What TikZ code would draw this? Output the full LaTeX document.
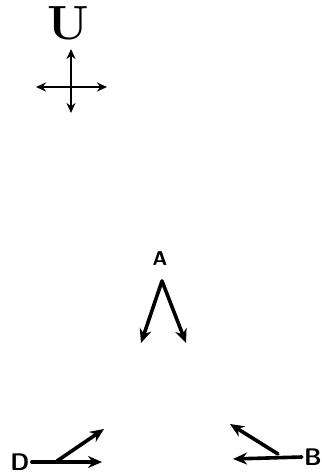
\documentclass[tikz,border=0pt]{standalone}
\usetikzlibrary{arrows.meta}

\begin{document}
\begin{tikzpicture}[
  x=0.5pt, y=-0.5pt,
  arr/.style={-{Stealth[length=7pt, width=6pt]}, line width=1.8pt, line cap=round},
  thin arr/.style={-{Stealth[length=5pt, width=4.5pt]}, line width=1.2pt},
  lbl/.style={font=\sffamily\bfseries\large, inner sep=1pt},
  big/.style={font=\fontsize{24}{28}\selectfont\bfseries, inner sep=0pt}
]
\useasboundingbox (0,0) rectangle (322,473);

% compass cross
\node[big] (up) at (68,23) {U};
\coordinate (cross) at (71,87);
\coordinate (north) at (71,49);
\coordinate (south) at (71,113);
\coordinate (west)  at (36,87);
\coordinate (east)  at (107,87);
\draw[thin arr] (cross) -- (north);
\draw[thin arr] (cross) -- (south);
\draw[thin arr] (cross) -- (west);
\draw[thin arr] (cross) -- (east);

% A
\node[lbl, font=\sffamily\bfseries] (a) at (160,259) {A};
\coordinate (apex)   at (162,281);
\coordinate (aleft)  at (141,343);
\coordinate (aright) at (186,343);
\draw[arr] (apex) -- (aleft);
\draw[arr] (apex) -- (aright);

% D
\node[lbl] (d) at (20,462) {D};
\coordinate (dfork)  at (57,461);
\coordinate (dright) at (102,462);
\coordinate (dup)    at (104,429);
\draw[arr] (d.east) -- (dright);
\draw[arr] (dfork) -- (dup);

% B
\node[lbl] (b) at (313,457) {B};
\coordinate (bfork) at (278,454);
\coordinate (bleft) at (233,459);
\coordinate (bup)   at (230,424);
\draw[arr] (b.west) -- (bleft);
\draw[arr] (bfork) -- (bup);

\end{tikzpicture}
\end{document}
